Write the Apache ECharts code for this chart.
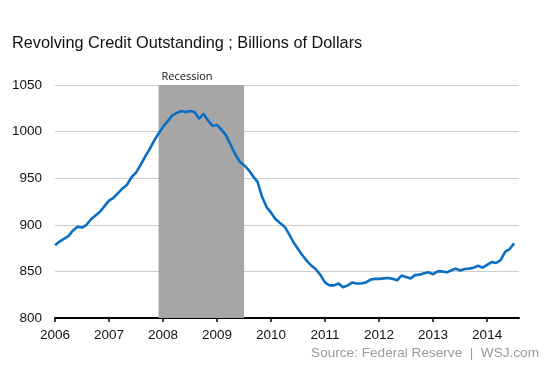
<!DOCTYPE html>
<html>
<head>
<meta charset="utf-8">
<script src="https://cdn.jsdelivr.net/npm/echarts@6/dist/echarts.min.js"></script>
<style>html,body{margin:0;padding:0;background:#fff}#c{width:553px;height:369px}</style>
</head>
<body>
<div id="c"></div>
<script>
// Monthly values, Jan 2006 .. Jul 2014 (billions of dollars)
var startYear = 2006;
var credit = [
  878, 882, 885, 888, 894, 898, 897, 900, 906, 910, 914, 920,
  926, 929, 934, 939, 943, 951, 956, 964, 973, 981, 990, 998,
  1005, 1011, 1017, 1020, 1022, 1021, 1022, 1021, 1014, 1019, 1012, 1006,
  1007, 1002, 996, 986, 976, 968, 964, 959, 952, 946, 930, 919,
  913, 906, 902, 898, 890, 881, 874, 867, 861, 856, 852, 846,
  838, 835, 835, 837, 833, 835, 838, 837, 837, 838, 841, 842,
  842, 842.5, 843, 842, 840.5, 845.5, 844, 842.5, 846, 846.5, 848, 849,
  847, 850, 850, 849, 851, 853, 851, 852.5, 853, 854, 856, 854,
  857, 860, 859, 862, 871, 874, 880
];
var recession = [2007 + 11/12, 2009.5]; // Dec 2007 - Jun 2009
var yearTicks = [2006, 2007, 2008, 2009, 2010, 2011, 2012, 2013, 2014];
var titleText = 'Revolving Credit Outstanding ; Billions of Dollars';
var sourceText = 'Source: Federal Reserve  |  WSJ.com';

var seriesData = credit.map(function (v, i) { return [startYear + i / 12, v]; });

var chart = echarts.init(document.getElementById('c'), null, {renderer: 'canvas'});
chart.setOption({
  animation: false,
  backgroundColor: '#fff',
  title: {
    text: titleText, left: 7, top: 31,
    textStyle: {fontFamily: 'Liberation Sans, Arial, sans-serif', fontSize: 16.3, fontWeight: 'normal', color: '#111'}
  },
  graphic: [{
    type: 'text', right: 14, top: 346,
    style: {text: sourceText, fontFamily: 'Liberation Sans, Arial, sans-serif', fontSize: 13.6, fill: '#9a9a9a'}
  }],
  grid: {left: 55, right: 34, top: 85, bottom: 51},
  xAxis: {
    type: 'value', min: 2006, max: 2014.59, interval: 1,
    splitLine: {show: false},
    axisLine: {show: true, lineStyle: {color: '#000', width: 2}},
    axisTick: {show: true, length: 4, customValues: yearTicks, lineStyle: {color: '#000', width: 1.5}},
    axisLabel: {customValues: yearTicks, formatter: function (v) { return String(v); }, margin: 10,
      fontFamily: 'Liberation Sans, Arial, sans-serif', fontSize: 13.5, color: '#111'}
  },
  yAxis: {
    type: 'value', min: 800, max: 1050, interval: 50,
    axisLine: {show: false}, axisTick: {show: false},
    splitLine: {show: true, lineStyle: {color: '#cccccc', width: 1.2}},
    axisLabel: {margin: 13, formatter: function (v) { return String(v); },
      fontFamily: 'Liberation Sans, Arial, sans-serif', fontSize: 13.5, color: '#111'}
  },
  series: [{
    type: 'line', data: seriesData, showSymbol: false, z: 5,
    lineStyle: {color: '#0a6fc2', width: 2.6, join: 'round'},
    markArea: {
      silent: true,
      itemStyle: {color: '#a6a6a6'},
      label: {show: true, position: [3, -3], align: 'left', verticalAlign: 'bottom',
        fontFamily: 'Open Sans, sans-serif', fontSize: 11, color: '#111'},
      data: [[{name: 'Recession', xAxis: recession[0]}, {xAxis: recession[1]}]]
    }
  }]
});
</script>
</body>
</html>
